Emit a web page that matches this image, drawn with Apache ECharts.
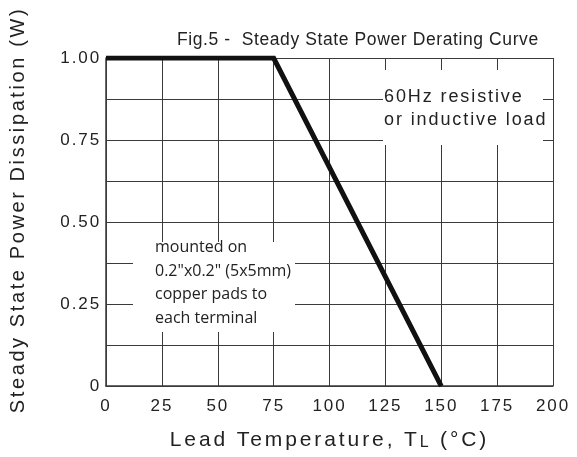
<!DOCTYPE html>
<html>
<head>
<meta charset="utf-8">
<script src="https://cdn.jsdelivr.net/npm/echarts@6/dist/echarts.min.js"></script>
<style>
html,body{margin:0;padding:0;background:#fff;}
#chart{width:577px;height:457px;}
</style>
</head>
<body>
<div id="chart"></div>
<script>
// Data
const curveTemps = [0, 75, 150];
const curvePower = [1.0, 1.0, 0.0];
const xTicks = [0, 25, 50, 75, 100, 125, 150, 175, 200];
const yTickLabels = {'0': '0', '0.25': '0.25', '0.5': '0.50', '0.75': '0.75', '1': '1.00'};
const titleText = 'Fig.5 -  Steady State Power Derating Curve';
const yName = 'Steady State Power Dissipation (W)';
const note1 = ['60Hz resistive', 'or inductive load'];
const note2 = ['mounted on', '0.2"x0.2" (5x5mm)', 'copper pads to', 'each terminal'];

// Letter tracking (the reference typeface is widely spaced)
const spacingFor = (font) => {
  if (/Open Sans/.test(font)) return 0;
  const m = String(font).match(/([\d.]+)px/);
  if (!m) return 0;
  const table = {'16': 2.6, '17': 1.9, '17.5': 0.6, '18': 1.9, '20': 2.6, '21': 2.9};
  return table[String(parseFloat(m[1]))] || 0;
};
(function () {
  const P = CanvasRenderingContext2D.prototype;
  if (!('letterSpacing' in P)) return;
  const oFill = P.fillText, oMeasure = P.measureText;
  P.fillText = function (t, x, y, w) {
    this.letterSpacing = spacingFor(this.font) + 'px';
    return w === undefined ? oFill.call(this, t, x, y) : oFill.call(this, t, x, y, w);
  };
  P.measureText = function (t) {
    this.letterSpacing = spacingFor(this.font) + 'px';
    return oMeasure.call(this, t);
  };
})();

const chart = echarts.init(document.getElementById('chart'));
const FONT = "'Liberation Sans', Arial, sans-serif";
const lineColor = '#3a3a3a';

chart.setOption({
  animation: false,
  backgroundColor: '#fff',
  title: {
    text: titleText,
    left: 172, top: 26,
    textStyle: {fontFamily: FONT, fontSize: 17.5, fontWeight: 'normal', color: '#222'}
  },
  grid: {left: 106, top: 58, width: 447, height: 333, containLabel: false},
  xAxis: {
    type: 'value', min: 0, max: 200, interval: 25,
    name: '{s|Lead Temperature, T}{sub|L}{s| (°C)}',
    nameLocation: 'middle', nameGap: 42,
    nameTextStyle: {
      fontFamily: FONT, fontSize: 21, color: '#222',
      rich: {
        s: {fontFamily: FONT, fontSize: 21, color: '#222'},
        sub: {fontFamily: FONT, fontSize: 16, color: '#222', verticalAlign: 'bottom', padding: [5, 0, 0, 0]}
      }
    },
    axisLine: {show: true, lineStyle: {color: lineColor, width: 1.5}},
    axisTick: {show: false},
    axisLabel: {fontFamily: FONT, fontSize: 17, color: '#222', margin: 11,
      formatter: v => xTicks.includes(v) ? String(v) : ''},
    splitLine: {show: true, lineStyle: {color: lineColor, width: 1}}
  },
  yAxis: {
    type: 'value', min: 0, max: 1, interval: 0.125,
    axisLine: {show: true, lineStyle: {color: lineColor, width: 1.5}},
    axisTick: {show: false},
    axisLabel: {fontFamily: FONT, fontSize: 17, color: '#222', margin: 5,
      formatter: v => {
        const k = String(+v.toFixed(3));
        return yTickLabels[k] !== undefined ? yTickLabels[k] : '';
      }},
    splitLine: {show: true, lineStyle: {color: lineColor, width: 1}}
  },
  series: [{
    type: 'line',
    data: curveTemps.map((t, i) => [t, curvePower[i]]),
    symbol: 'none',
    lineStyle: {color: '#111', width: 5, cap: 'butt', join: 'miter'},
    z: 5
  }],
  graphic: [
    {type: 'text', x: 18, y: 210, rotation: Math.PI / 2, z: 20,
      style: {text: yName, font: '20px ' + FONT, fill: '#222', align: 'center', verticalAlign: 'middle'}},
    {type: 'rect', z: 10, shape: {x: 383, y: 70, width: 160, height: 75}, style: {fill: '#fff'}},
    {type: 'text', z: 11, x: 384, y: 86,
      style: {text: note1.join('\n'), font: '18px ' + FONT, fill: '#222', lineHeight: 23, verticalAlign: 'top'}},
    {type: 'rect', z: 10, shape: {x: 133, y: 242, width: 162, height: 90}, style: {fill: '#fff'}},
    {type: 'text', z: 11, x: 155, y: 236,
      style: {text: note2.join('\n'), font: '16px "Open Sans", ' + FONT, fill: '#222', lineHeight: 23.5, verticalAlign: 'top'}}
  ]
});
</script>
</body>
</html>
